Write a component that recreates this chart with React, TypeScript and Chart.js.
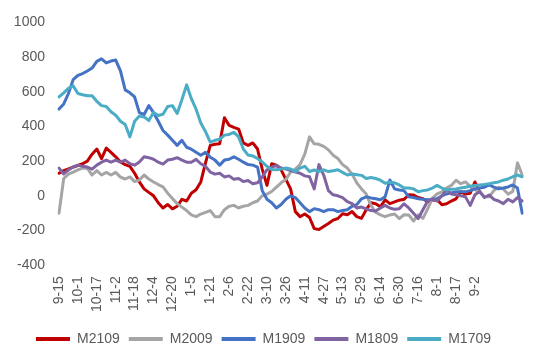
import React, { useEffect, useRef } from 'react';
import { Chart, registerables } from 'chart.js';

Chart.register(...registerables);

const TICK_LABELS = ['9-15', '10-1', '10-17', '11-2', '11-18', '12-4', '12-20', '1-5', '1-21', '2-6', '2-22', '3-10', '3-26', '4-11', '4-27', '5-13', '5-29', '6-14', '6-30', '7-16', '8-1', '8-17', '9-2'];
const SERIES_NAMES = ['M2109', 'M2009', 'M1909', 'M1809', 'M1709'];
const SERIES_COLORS = ['#C00000', '#A5A5A5', '#4472C4', '#8064A2', '#4BACC6'];

const M2109 = [
  130, 145, 155, 166, 175, 185, 200, 240, 270, 215,
  275, 250, 225, 195, 180, 170, 130, 80, 40, 20,
  0, -40, -70, -50, -75, -60, -20, -30, 15, 35,
  80, 190, 291, 297, 300, 450, 406, 395, 385, 305,
  291, 305, 270, 154, 60, 185, 177, 150, 95, 40,
  -91, -120, -105, -125, -189, -194, -177, -160, -140, -131,
  -103, -109, -91, -120, -130, -80, -40, -46, -63, -23,
  -45, -35, -25, -20, 6, 5, -10, -17, -34, -25,
  -23, -51, -46, -30, -17, 23, 10, 15, 80, 23,
  null, null, null, null, null, null, null, null, null,
];
const M2009 = [
  -100, 100, 125, 137, 150, 160, 158, 120, 145, 120,
  135, 120, 135, 108, 97, 109, 82, 91, 120, 97,
  80, 65, 52, 15, -15, -45, -65, -85, -110, -120,
  -105, -95, -85, -120, -120, -80, -60, -55, -70, -60,
  -55, -40, -30, 0, 10, 25, 50, 75, 95, 137,
  154, 180, 240, 340, 300, 297, 285, 265, 234, 215,
  180, 160, 125, 75, 40, 10, -55, -95, -110, -120,
  -110, -105, -131, -109, -110, -145, -110, -130, -75, -15,
  11, 23, 45, 60, 90, 70, 80, 55, 35, 25,
  -5, -6, 30, 50, 40, 10, 25, 190, 120,
];
const M1909 = [
  500, 530, 590, 670, 695, 705, 720, 737, 775, 790,
  766, 777, 783, 720, 611, 594, 570, 480, 469, 520,
  480, 430, 377, 350, 320, 291, 320, 280, 269, 251,
  234, 251, 223, 206, 177, 206, 211, 225, 211, 194,
  180, 177, 166, 30, -20, -40, -70, -50, -20, 0,
  -10, -40, -70, -91, -74, -80, -91, -80, -80, -91,
  -85, -80, -60, -51, -17, -6, -12, -17, -23, -6,
  91, 40, 34, 30, -6, -10, -17, -20, -23, -20,
  -17, 0, 11, 17, 23, 23, 23, 30, 40, 45,
  50, 63, 50, 40, 45, 51, 63, 45, -100,
];
const M1809 = [
  160, 126, 149, 166, 177, 170, 166, 154, 177, 194,
  206, 194, 206, 194, 206, 185, 177, 195, 225, 220,
  211, 194, 183, 206, 211, 220, 206, 194, 194, 210,
  185, 170, 137, 125, 130, 109, 115, 95, 100, 82,
  88, 70, 75, 110, 150, 165, 175, 160, 155, 145,
  137, 130, 115, 110, 40, 180, 120, 30, 6, 0,
  -10, -34, -45, -70, -65, -75, -85, -88, -70, -55,
  -70, -78, -74, -46, -70, -100, -131, -80, -30, -17,
  -30, 0, 34, 11, 6, 0, -6, -55, 6, 25,
  -10, 5, -20, -30, -45, -20, -35, -10, -30,
];
const M1709 = [
  570, 594, 620, 634, 590, 583, 577, 577, 545, 520,
  515, 485, 465, 430, 411, 340, 430, 460, 455, 434,
  480, 463, 470, 515, 520, 475, 554, 640, 560, 500,
  420, 370, 310, 320, 326, 350, 354, 366, 340, 270,
  235, 230, 215, 195, 170, 152, 150, 154, 160, 155,
  140, 160, 170, 140, 149, 140, 150, 140, 145, 150,
  135, 120, 126, 122, 118, 100, 106, 100, 90, 72,
  78, 75, 63, 45, 45, 40, 23, 30, 34, 45,
  60, 45, 34, 38, 40, 45, 50, 55, 60, 63,
  66, 70, 75, 80, 90, 97, 110, 120, 110,
];
const SERIES_VALUES = [M2109, M2009, M1909, M1809, M1709];

const FONT = { family: "'Liberation Sans', Arial, sans-serif", size: 14 };
const TEXT_COLOR = '#595959';

export default function App() {
  const ref = useRef<HTMLCanvasElement>(null);

  useEffect(() => {
    if (!ref.current) return;
    const labels = M1909.map((_, i) =>
      i % 4 === 0 && i / 4 < TICK_LABELS.length ? TICK_LABELS[i / 4] : ''
    );
    // Excel draws later series on top; Chart.js draws the first dataset on top
    const datasets = SERIES_NAMES.map((name, k) => ({
      label: name,
      data: SERIES_VALUES[k],
      borderColor: SERIES_COLORS[k],
      backgroundColor: SERIES_COLORS[k],
      borderWidth: 3,
      pointRadius: 0,
      tension: 0,
      borderJoinStyle: 'round' as const,
      borderCapStyle: 'round' as const,
    })).reverse();

    const chart = new Chart(ref.current, {
      type: 'line',
      data: { labels, datasets },
      options: {
        animation: false,
        responsive: true,
        maintainAspectRatio: false,
        layout: { padding: { left: 0, right: 20, top: 20, bottom: 8 } },
        plugins: {
          tooltip: { enabled: false },
          legend: {
            position: 'bottom',
            reverse: true,
            labels: {
              boxWidth: 34,
              boxHeight: 4,
              padding: 9,
              color: TEXT_COLOR,
              font: FONT,
              generateLabels: (c: any) =>
                Chart.defaults.plugins.legend.labels
                  .generateLabels(c)
                  .map((l: any) => ({ ...l, lineWidth: 0 })),
            },
          },
        },
        scales: {
          x: {
            type: 'category',
            grid: { display: false, drawTicks: false },
            border: { display: false },
            ticks: {
              autoSkip: false,
              maxRotation: 90,
              minRotation: 90,
              padding: 11,
              color: TEXT_COLOR,
              font: FONT,
            },
          },
          y: {
            min: -400,
            max: 1000,
            grid: { display: false, drawTicks: false },
            border: { display: false },
            afterFit: (scale: any) => {
              scale.width = 62;
            },
            ticks: {
              stepSize: 200,
              padding: 14,
              color: TEXT_COLOR,
              font: FONT,
              callback: (v: any) => String(v),
            },
          },
        },
      },
    });
    return () => chart.destroy();
  }, []);

  return (
    <div style={{ position: 'fixed', left: -3, top: 0, width: 553, height: 364, background: '#fff' }}>
      <canvas ref={ref} />
    </div>
  );
}
